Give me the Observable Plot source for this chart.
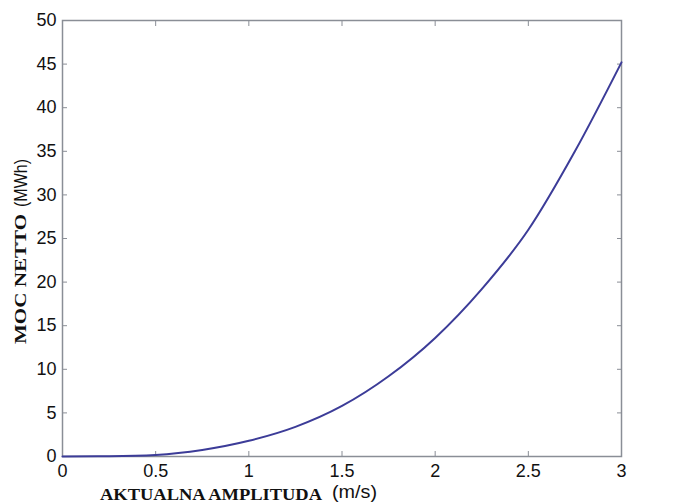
<!DOCTYPE html>
<html>
<head>
<meta charset="utf-8">
<script src="https://cdn.jsdelivr.net/npm/d3@7"></script>
<script src="https://cdn.jsdelivr.net/npm/@observablehq/plot@0.6"></script>
<style>
  html, body { margin: 0; padding: 0; background: #fff; }
  #chart svg { display: block; }
</style>
</head>
<body>
<div id="chart"></div>
<script>
// Values
const amplitude = [0, 0.25, 0.5, 0.75, 1, 1.25, 1.5, 1.75, 2, 2.25, 2.5, 2.75, 3];
const power     = [0, 0.03, 0.18, 0.75, 1.8, 3.4, 5.8, 9.2, 13.6, 19.2, 26.0, 35.0, 45.2];
const xTicks = [0, 0.5, 1, 1.5, 2, 2.5, 3];
const yTicks = [0, 5, 10, 15, 20, 25, 30, 35, 40, 45, 50];
const xLabelMain = "AKTUALNA AMPLITUDA";
const xLabelUnit = "(m/s)";
const yLabelMain = "MOC NETTO";
const yLabelUnit = "(MWh)";

const data = amplitude.map((a, i) => ({a, p: power[i]}));
const frameColor = "#8a8e96";
const tickFont = "Liberation Sans, Arial, sans-serif";
const serifFont = "Liberation Serif, Times New Roman, serif";
const noLabel = () => "";

const plot = Plot.plot({
  width: 673,
  height: 502,
  marginLeft: 62,
  marginRight: 52,
  marginTop: 20,
  marginBottom: 46,
  style: {fontFamily: tickFont, fontSize: "18px", color: "#111", background: "#fff"},
  x: {domain: [0, 3], ticks: xTicks},
  y: {domain: [0, 50], ticks: yTicks},
  marks: [
    // inward tick marks on all four sides
    Plot.axisX(xTicks, {anchor: "bottom", tickSize: 5, dy: -5, stroke: frameColor, label: null, tickFormat: noLabel}),
    Plot.axisX(xTicks, {anchor: "top", tickSize: 5, dy: 5, stroke: frameColor, label: null, tickFormat: noLabel}),
    Plot.axisY(yTicks, {anchor: "left", tickSize: 5, dx: 5, stroke: frameColor, label: null, tickFormat: noLabel}),
    Plot.axisY(yTicks, {anchor: "right", tickSize: 5, dx: -5, stroke: frameColor, label: null, tickFormat: noLabel}),
    // tick labels
    Plot.axisX(xTicks, {anchor: "bottom", tickSize: 0, tickPadding: 8, label: null, tickFormat: d => String(d), fontSize: 18}),
    Plot.axisY(yTicks, {anchor: "left", tickSize: 0, tickPadding: 6, label: null, tickFormat: d => String(d), fontSize: 18}),
    Plot.frame({stroke: frameColor, strokeWidth: 1.5}),
    Plot.line(data, {x: "a", y: "p", stroke: "#3c3c98", strokeWidth: 2, curve: "monotone-x"})
  ]
});

const svg = d3.select(plot);
// x axis label (serif bold part + sans unit)
svg.append("text")
  .attr("x", 100).attr("y", 500)
  .attr("text-anchor", "start").attr("fill", "#111")
  .attr("font-family", serifFont).attr("font-weight", "bold").attr("font-size", 16)
  .attr("textLength", 222).attr("lengthAdjust", "spacingAndGlyphs")
  .text(xLabelMain);
svg.append("text")
  .attr("x", 332).attr("y", 498)
  .attr("text-anchor", "start").attr("fill", "#111")
  .attr("font-family", tickFont).attr("font-size", 18)
  .attr("textLength", 45).attr("lengthAdjust", "spacingAndGlyphs")
  .text(xLabelUnit);

// y axis label (rotated)
svg.append("text")
  .attr("transform", "translate(26,344) rotate(-90)")
  .attr("text-anchor", "start").attr("fill", "#111")
  .attr("font-family", serifFont).attr("font-weight", "bold").attr("font-size", 16)
  .attr("textLength", 130).attr("lengthAdjust", "spacingAndGlyphs")
  .text(yLabelMain);
svg.append("text")
  .attr("transform", "translate(27,207) rotate(-90)")
  .attr("text-anchor", "start").attr("fill", "#111")
  .attr("font-family", tickFont).attr("font-size", 18)
  .attr("textLength", 48).attr("lengthAdjust", "spacingAndGlyphs")
  .text(yLabelUnit);

document.getElementById("chart").appendChild(plot);
</script>
</body>
</html>
